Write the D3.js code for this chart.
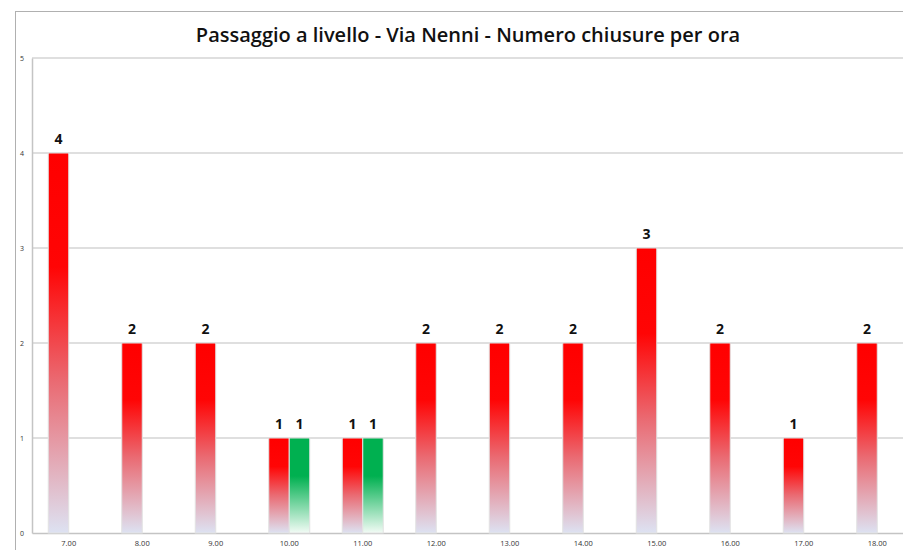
<!DOCTYPE html>
<html><head><meta charset="utf-8">
<script src="https://cdn.jsdelivr.net/npm/d3@7"></script>
<style>body{margin:0;background:#fff;}svg{display:block;}</style>
</head><body>
<svg id="c" width="903" height="550"></svg>
<script>
const categories = ["7.00","8.00","9.00","10.00","11.00","12.00","13.00","14.00","15.00","16.00","17.00","18.00"];
const redValues = [4,2,2,1,1,2,2,2,3,2,1,2];
const greenValues = [null,null,null,1,1,null,null,null,null,null,null,null];
const yTicks = [0,1,2,3,4,5];
const title = "Passaggio a livello - Via Nenni - Numero chiusure per ora";

const svg = d3.select("#c");
const W = 903, H = 550;
const m = {left:32, top:58, right:914, bottom:533};

const defs = svg.append("defs");
const gr = defs.append("linearGradient").attr("id","gRed").attr("x1",0).attr("y1",0).attr("x2",0).attr("y2",1);
gr.append("stop").attr("offset","0%").attr("stop-color","#ff0000");
gr.append("stop").attr("offset","30%").attr("stop-color","#ff0505");
gr.append("stop").attr("offset","60%").attr("stop-color","#ea6a72");
gr.append("stop").attr("offset","100%").attr("stop-color","#dde2f2");
const gg = defs.append("linearGradient").attr("id","gGreen").attr("x1",0).attr("y1",0).attr("x2",0).attr("y2",1);
gg.append("stop").attr("offset","0%").attr("stop-color","#00b050");
gg.append("stop").attr("offset","40%").attr("stop-color","#00b050");
gg.append("stop").attr("offset","100%").attr("stop-color","#f2fbf5");

// outer border
svg.append("rect").attr("x",15.5).attr("y",11.5).attr("width",W).attr("height",H)
  .attr("fill","none").attr("stroke","#b0b0b0").attr("stroke-width",1);

const x = d3.scaleBand().domain(categories).range([m.left,m.right]).paddingInner(0).paddingOuter(0);
const y = d3.scaleLinear().domain([0,5]).range([m.bottom,m.top]);
const barW = 20.5;

// gridlines
svg.append("g").selectAll("line").data(yTicks.filter(d=>d>0)).join("line")
  .attr("x1",m.left).attr("x2",W).attr("y1",d=>y(d)).attr("y2",d=>y(d))
  .attr("stroke","#d4d4d4").attr("stroke-width",1.5);

// axes
const yAxis = svg.append("g").attr("transform",`translate(${m.left},0)`)
  .call(d3.axisLeft(y).tickValues(yTicks).tickSize(0).tickPadding(8).tickFormat(d3.format("d")));
yAxis.select(".domain").attr("stroke","#c4c4c4").attr("stroke-width",1.5);
yAxis.selectAll("text").attr("font-family","Open Sans, sans-serif").attr("font-size",7).attr("fill","#333");

const xAxis = svg.append("g").attr("transform",`translate(0,${m.bottom})`)
  .call(d3.axisBottom(x).tickSize(0).tickPadding(8));
xAxis.select(".domain").attr("stroke","#c4c4c4").attr("stroke-width",1.5);
xAxis.selectAll("text").attr("font-family","Open Sans, sans-serif").attr("font-size",7.5).attr("fill","#333");

const center = c => x(c) + x.bandwidth()/2;

// red bars
const redData = categories.map((c,i)=>({c,v:redValues[i]}));
svg.append("g").selectAll("rect").data(redData).join("rect")
  .attr("x",d=>center(d.c)-barW).attr("y",d=>y(d.v)).attr("width",barW).attr("height",d=>y(0)-y(d.v))
  .attr("fill","url(#gRed)").attr("stroke","#e2e2e2").attr("stroke-width",1);
const greenData = categories.map((c,i)=>({c,v:greenValues[i]})).filter(d=>d.v!=null);
svg.append("g").selectAll("rect").data(greenData).join("rect")
  .attr("x",d=>center(d.c)).attr("y",d=>y(d.v)).attr("width",barW).attr("height",d=>y(0)-y(d.v))
  .attr("fill","url(#gGreen)").attr("stroke","#e2e2e2").attr("stroke-width",1);

// labels
const lbl = (data, off) => svg.append("g").selectAll("text").data(data).join("text")
  .attr("x",d=>center(d.c)+off).attr("y",d=>y(d.v)-9).attr("text-anchor","middle")
  .attr("font-family","Open Sans, sans-serif").attr("font-weight","bold").attr("font-size",14).attr("fill","#111")
  .text(d=>d.v);
lbl(redData,-barW/2);
lbl(greenData,barW/2);

svg.append("text").attr("x",468).attr("y",42).attr("text-anchor","middle")
  .attr("font-family","Open Sans, sans-serif").attr("font-weight","600").attr("font-size",20).attr("fill","#111")
  .text(title);
</script>
</body></html>
